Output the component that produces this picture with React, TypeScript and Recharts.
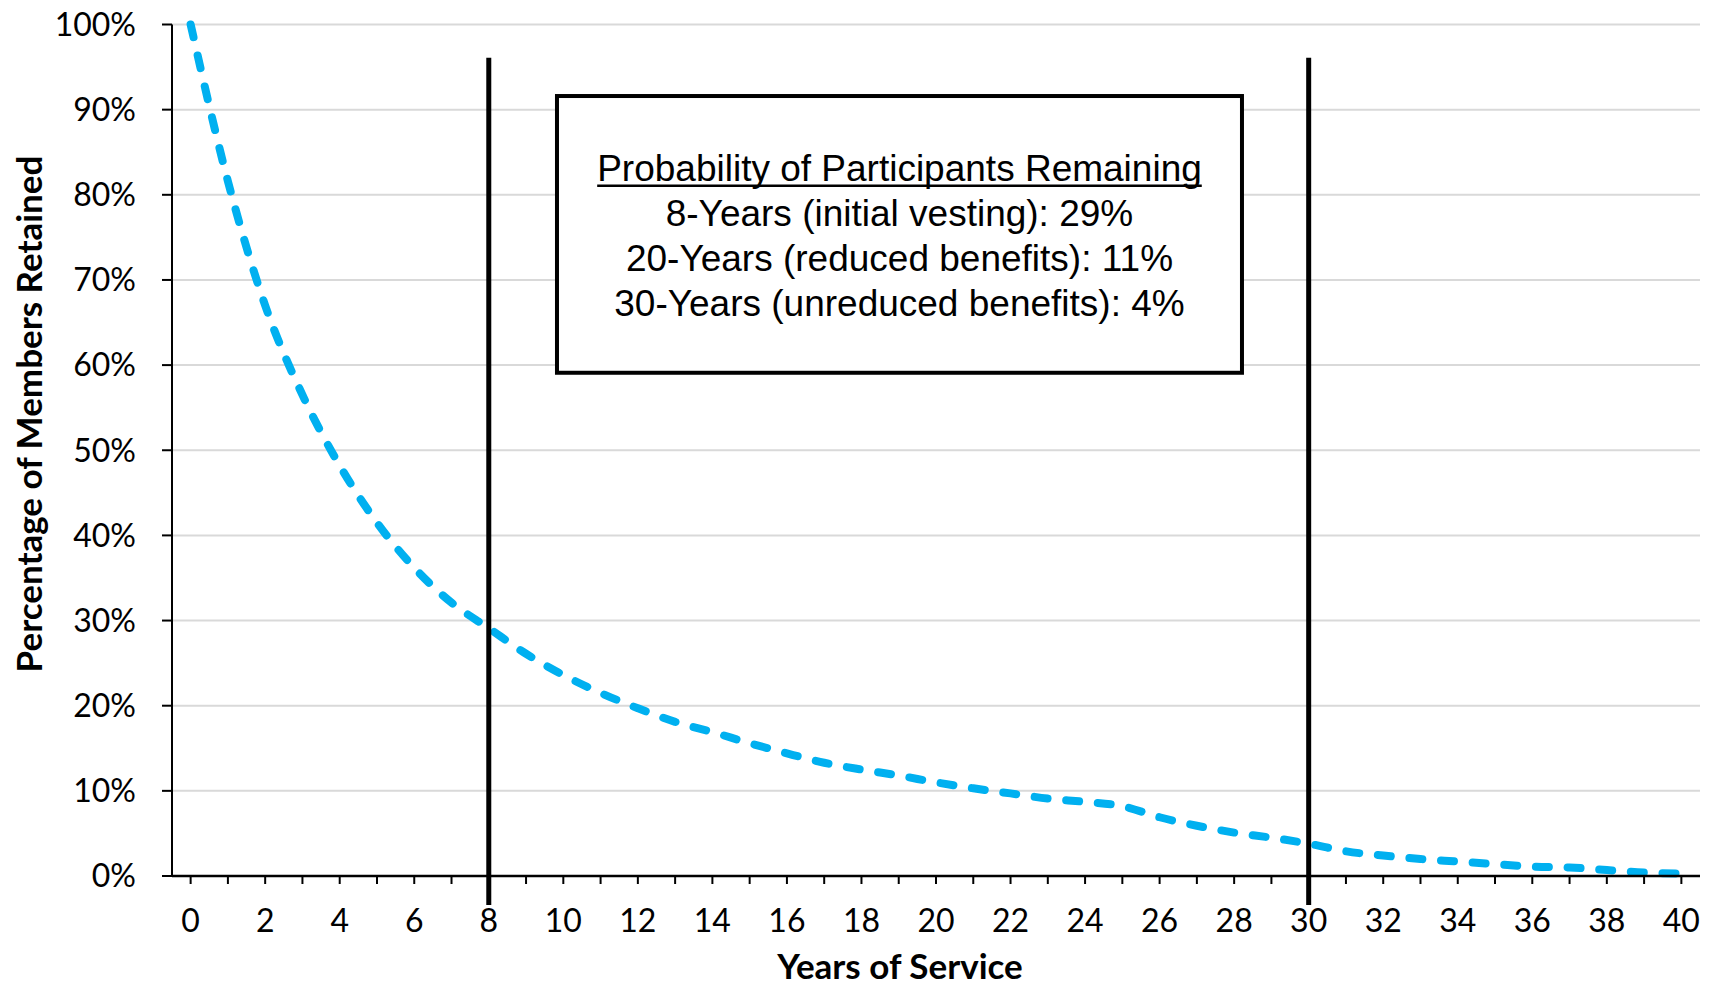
import React from 'react';
import {
  LineChart,
  Line,
  XAxis,
  YAxis,
  CartesianGrid,
  ReferenceLine,
  ReferenceArea,
  Label,
} from 'recharts';

// ---- data ----
const years = [
  0, 1, 2, 3, 4, 5, 6, 7, 8, 9, 10, 11, 12, 13, 14, 15, 16, 17, 18, 19, 20,
  21, 22, 23, 24, 25, 26, 27, 28, 29, 30, 31, 32, 33, 34, 35, 36, 37, 38, 39, 40,
];
const retained = [
  1.0, 0.816, 0.67, 0.565, 0.482, 0.415, 0.362, 0.321, 0.291, 0.261, 0.236,
  0.215, 0.197, 0.181, 0.169, 0.156, 0.144, 0.133, 0.125, 0.118, 0.11,
  0.103, 0.097, 0.091, 0.087, 0.082, 0.069, 0.059, 0.051, 0.045, 0.038,
  0.029, 0.024, 0.02, 0.017, 0.014, 0.011, 0.01, 0.007, 0.004, 0.003,
];
const yTicks = [0, 0.1, 0.2, 0.3, 0.4, 0.5, 0.6, 0.7, 0.8, 0.9, 1.0];
const markerYears = [8, 30];
const markerSpan = [-0.034, 0.961];
const boxTitle = 'Probability of Participants Remaining';
const boxLines = [
  '8-Years (initial vesting): 29%',
  '20-Years (reduced benefits): 11%',
  '30-Years (unreduced benefits): 4%',
];
const boxX = [9.83, 28.21];
const boxY = [0.591, 0.916];
const xTitle = 'Years of Service';
const yTitle = 'Percentage of Members Retained';

const data = years.map((y, i) => ({ year: y, value: retained[i] }));

const AXIS_FONT = 'Lato, "Open Sans", sans-serif';
const BOX_FONT = '"Liberation Sans", Arial, sans-serif';
const BOX_FONT_SIZE = 37;
// Arial advance width of the title, in em
const TITLE_EM_WIDTH = 16.34;

const BoxShape = (props: any) => {
  const { x, y, width, height } = props;
  const cx = x + width / 2;
  const cy = y + height / 2;
  const lh = 45;
  const all = [boxTitle, ...boxLines];
  const titleCenter = cy - 1.5 * lh + 2;
  const ulY = titleCenter + 0.3465 * BOX_FONT_SIZE + 4;
  const ulHalf = (TITLE_EM_WIDTH * BOX_FONT_SIZE) / 2;
  return (
    <g>
      <rect x={x} y={y} width={width} height={height} fill="#fff" stroke="#000" strokeWidth={4} />
      {all.map((t, i) => (
        <text
          key={i}
          x={cx}
          y={cy + (i - 1.5) * lh + 2}
          textAnchor="middle"
          dominantBaseline="central"
          fontFamily={BOX_FONT}
          fontSize={BOX_FONT_SIZE}
          fill="#000"
        >
          {t}
        </text>
      ))}
      <line x1={cx - ulHalf} x2={cx + ulHalf} y1={ulY} y2={ulY} stroke="#000" strokeWidth={2.5} />
    </g>
  );
};

export default function App() {
  return (
    <div>
      <style>{'body{margin:0;background:#fff}'}</style>
      <LineChart
        width={1709}
        height={986}
        data={data}
        margin={{ top: 24.5, right: 9, bottom: 0, left: 0 }}
      >
        <CartesianGrid horizontal vertical={false} stroke="#D9D9D9" strokeWidth={2} />
        <XAxis
          dataKey="year"
          type="number"
          domain={[-0.5, 40.5]}
          ticks={years}
          interval={0}
          height={110}
          tickFormatter={(v: number) => (v % 2 === 0 ? String(v) : '')}
          tick={{ fontFamily: AXIS_FONT, fontSize: 32, fill: '#000' }}
          tickSize={8}
          tickMargin={25}
          axisLine={{ stroke: '#000', strokeWidth: 2.5 }}
          tickLine={{ stroke: '#000', strokeWidth: 2 }}
        >
          <Label
            content={(p: any) => {
              const vb = p.viewBox || {};
              return (
                <text
                  x={900}
                  y={(vb.y || 876) + 103}
                  textAnchor="middle"
                  fontFamily={AXIS_FONT}
                  fontWeight={700}
                  fontSize={35}
                  fill="#000"
                >
                  {xTitle}
                </text>
              );
            }}
          />
        </XAxis>
        <YAxis
          type="number"
          domain={[0, 1]}
          ticks={yTicks}
          interval={0}
          width={172}
          tickFormatter={(v: number) => `${Math.round(v * 100)}%`}
          tick={{ fontFamily: AXIS_FONT, fontSize: 32, fill: '#000' }}
          tickSize={10}
          tickMargin={26}
          axisLine={{ stroke: '#000', strokeWidth: 2 }}
          tickLine={{ stroke: '#000', strokeWidth: 2 }}
        >
          <Label
            content={() => (
              <text
                x={27.5}
                y={414}
                transform="rotate(-90 27.5 414)"
                textAnchor="middle"
                dominantBaseline="central"
                fontFamily={AXIS_FONT}
                fontWeight={700}
                fontSize={35}
                fill="#000"
              >
                {yTitle}
              </text>
            )}
          />
        </YAxis>
        <Line
          type="monotone"
          dataKey="value"
          stroke="#00B0F0"
          strokeWidth={8}
          strokeDasharray="13 18.7"
          strokeLinecap="round"
          dot={false}
          activeDot={false}
          isAnimationActive={false}
        />
        {markerYears.map((m) => (
          <ReferenceLine
            key={m}
            segment={[
              { x: m, y: markerSpan[0] },
              { x: m, y: markerSpan[1] },
            ]}
            stroke="#000"
            strokeWidth={5}
            ifOverflow="visible"
          />
        ))}
        <ReferenceArea
          x1={boxX[0]}
          x2={boxX[1]}
          y1={boxY[0]}
          y2={boxY[1]}
          ifOverflow="visible"
          shape={BoxShape}
        />
      </LineChart>
    </div>
  );
}
